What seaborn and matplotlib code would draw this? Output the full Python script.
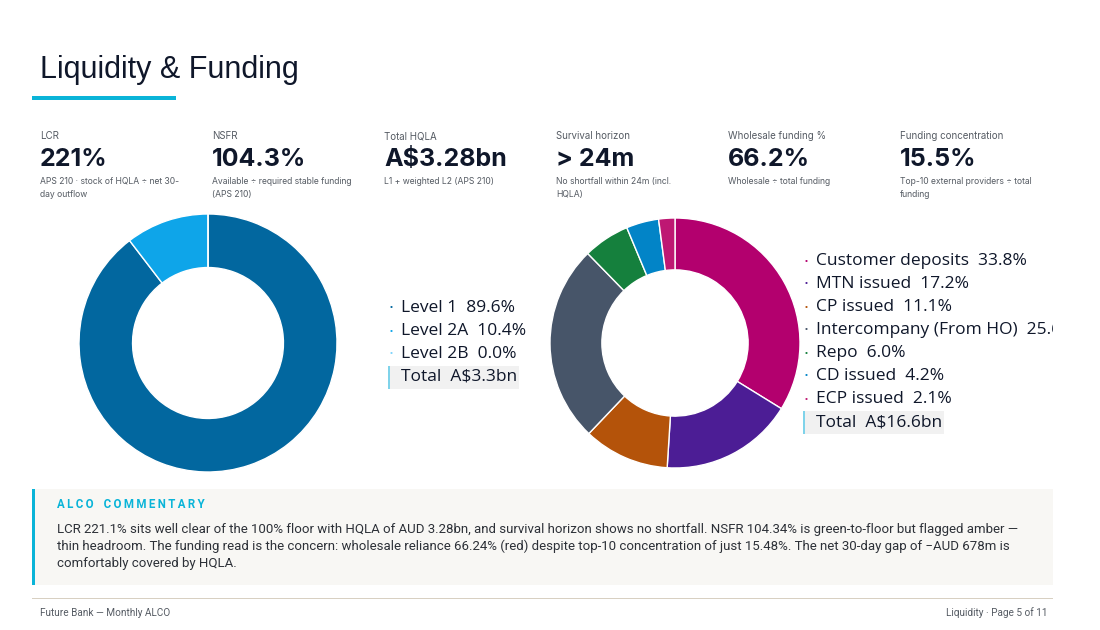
import matplotlib
matplotlib.use("Agg")
import matplotlib.pyplot as plt
from matplotlib.patches import Rectangle
import seaborn as sns

# ---------------- data ----------------
title = "Liquidity & Funding"

kpi_labels = ["LCR", "NSFR", "Total HQLA", "Survival horizon", "Wholesale funding %", "Funding concentration"]
kpi_values = ["221%", "104.3%", "A$3.28bn", "> 24m", "66.2%", "15.5%"]
kpi_notes = [
    "APS 210 · stock of HQLA ÷ net 30-\nday outflow",
    "Available ÷ required stable funding\n(APS 210)",
    "L1 + weighted L2 (APS 210)",
    "No shortfall within 24m (incl.\nHQLA)",
    "Wholesale ÷ total funding",
    "Top-10 external providers ÷ total\nfunding",
]

hqla_labels = ["Level 1", "Level 2A", "Level 2B"]
hqla_share = [89.6, 10.4, 0.0]
hqla_colors = ["#02679f", "#0ea5e9", "#7dd3fc"]
hqla_total = "A$3.3bn"

funding_labels = ["Customer deposits", "MTN issued", "CP issued", "Intercompany (From HO)",
                  "Repo", "CD issued", "ECP issued"]
funding_share = [33.8, 17.2, 11.1, 25.6, 6.0, 4.2, 2.1]
funding_colors = ["#b3006e", "#4c1d95", "#b4530a", "#475569", "#15803d", "#0284c7", "#be1873"]
funding_total = "A$16.6bn"

commentary_title = "ALCO COMMENTARY"
commentary_lines = [
    "LCR 221.1% sits well clear of the 100% floor with HQLA of AUD 3.28bn, and survival horizon shows no shortfall. NSFR 104.34% is green-to-floor but flagged amber —",
    "thin headroom. The funding read is the concern: wholesale reliance 66.24% (red) despite top-10 concentration of just 15.48%. The net 30-day gap of −AUD 678m is",
    "comfortably covered by HQLA.",
]
footer_left = "Future Bank — Monthly ALCO"
footer_right = "Liquidity · Page 5 of 11"

# ---------------- style ----------------
sns.set_theme(style="white")
plt.rcParams["font.family"] = ["Liberation Sans", "DejaVu Sans"]

W, H = 1100, 630
fig = plt.figure(figsize=(W / 100, H / 100), dpi=100)
fig.patch.set_facecolor("white")


def fx(x):
    return x / W


def fy(y):
    return 1 - y / H


NAVY = "#0f172a"
GREY = "#555b63"
CYAN = "#0ab4d8"
LEG_FONT = ["Open Sans", "DejaVu Sans"]

# title
fig.text(fx(40), fy(70), title, fontsize=22, color=NAVY, va="center", ha="left",
         family=["Liberation Sans", "DejaVu Sans"])
fig.patches.append(Rectangle((fx(32), fy(100)), fx(176) - fx(32), 4 / H, transform=fig.transFigure,
                             facecolor=CYAN, edgecolor="none"))

# KPI row
for i, (lab, val, note) in enumerate(zip(kpi_labels, kpi_values, kpi_notes)):
    x = 40 + 172 * i
    fig.text(fx(x), fy(136), lab, fontsize=7, color=GREY, va="center", ha="left",
             family=["Inter", "DejaVu Sans"])
    fig.text(fx(x), fy(160), val, fontsize=18, color=NAVY, va="center", ha="left",
             fontweight="bold", family=["Inter", "DejaVu Sans"])
    fig.text(fx(x), fy(177), note, fontsize=6.2, color=GREY, va="top", ha="left",
             linespacing=1.55, family=["Inter", "DejaVu Sans"])


def donut(cx, cy, r, values, colors):
    ax = fig.add_axes([fx(cx - r), fy(cy + r), 2 * r / W, 2 * r / H])
    ax.pie(values, colors=colors, startangle=90, counterclock=False,
           wedgeprops=dict(width=0.415, edgecolor="white", linewidth=1.0))
    ax.set_xlim(-1, 1)
    ax.set_ylim(-1, 1)
    ax.set_aspect("equal")
    ax.axis("off")
    return ax


donut(208, 343, 129, hqla_share, hqla_colors)
donut(675, 343, 125, funding_share, funding_colors)


def legend(x0, y0, labels, values, colors, total, clip_right):
    lax = fig.add_axes([fx(x0 - 10), fy(y0 + 23 * (len(labels) + 1)), (clip_right - x0 + 10) / W,
                        23 * (len(labels) + 2) / H])
    lax.axis("off")
    for j, (lab, v, c) in enumerate(zip(labels, values, colors)):
        y = y0 + 23 * j
        lax.text(fx(x0 + 3), fy(y), "•", transform=fig.transFigure, fontsize=6, color=c,
                 ha="center", va="center", clip_on=True)
        lax.text(fx(x0 + 13), fy(y), f"{lab}  {v:.1f}%", transform=fig.transFigure, fontsize=12.5,
                 color=NAVY, ha="left", va="center", clip_on=True, family=LEG_FONT)
    y = y0 + 23 * len(labels)
    t = fig.text(fx(x0 + 13), fy(y), f"Total  {total}", fontsize=12.5, color=NAVY, ha="left",
                 va="center", family=LEG_FONT, zorder=5)
    fig.canvas.draw()
    bb = t.get_window_extent()
    fig.patches.append(Rectangle((fx(x0), fy(y + 11.5)), (bb.x1 + 2) / W - fx(x0), 23 / H,
                                 transform=fig.transFigure, facecolor="#f1f1f1", edgecolor="none",
                                 zorder=2))
    fig.patches.append(Rectangle((fx(x0), fy(y + 11.5)), 1.5 / W, 23 / H,
                                 transform=fig.transFigure, facecolor="#7fd3ea", edgecolor="none",
                                 zorder=3))


legend(388, 308, hqla_labels, hqla_share, hqla_colors, hqla_total, 600)
legend(803, 261, funding_labels, funding_share, funding_colors, funding_total, 1053)

# commentary box
fig.patches.append(Rectangle((fx(32), fy(585)), fx(1053) - fx(32), 96 / H, transform=fig.transFigure,
                             facecolor="#f8f7f4", edgecolor="none", zorder=0))
fig.patches.append(Rectangle((fx(32), fy(585)), 2.5 / W, 96 / H, transform=fig.transFigure,
                             facecolor=CYAN, edgecolor="none", zorder=1))
spaced = "\u2009".join(commentary_title).replace("\u2009 \u2009", "\u2009\u2009 \u2009")
fig.text(fx(57), fy(505), spaced, fontsize=8.3, color=CYAN,
         fontweight="bold", va="center", ha="left", family=["Roboto", "DejaVu Sans"], zorder=2)
for k, line in enumerate(commentary_lines):
    fig.text(fx(57), fy(530 + 16.5 * k), line, fontsize=9.5, color="#2d3138", va="center",
             ha="left", family=["Roboto", "DejaVu Sans"], zorder=2)

# footer
fig.patches.append(Rectangle((fx(32), fy(599)), fx(1053) - fx(32), 1.5 / H, transform=fig.transFigure,
                             facecolor="#d8d0c2", edgecolor="none"))
fig.text(fx(40), fy(613), footer_left, fontsize=7.2, color=GREY, va="center", ha="left",
         family=["Roboto", "DejaVu Sans"])
fig.text(fx(1047), fy(613), footer_right, fontsize=7.2, color=GREY, va="center", ha="right",
         family=["Roboto", "DejaVu Sans"])

fig.savefig("out.png", dpi=100, facecolor="white")
